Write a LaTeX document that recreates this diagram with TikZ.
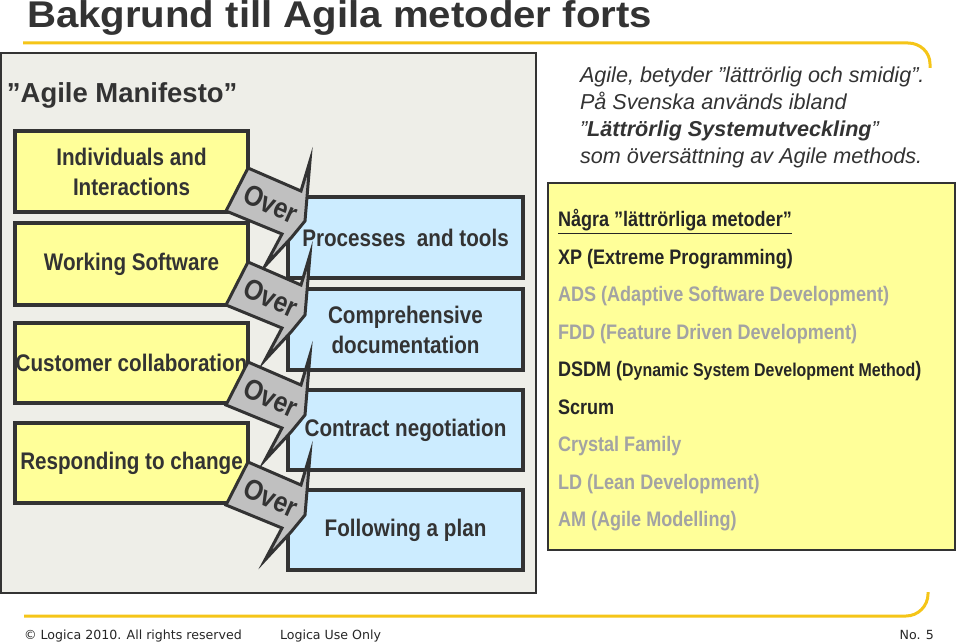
\documentclass[tikz,border=0pt]{standalone}
\usepackage{fontspec}
\setmainfont{Liberation Sans}
\newfontfamily\narrowfont[FakeStretch=0.86]{Liberation Sans}
\newfontfamily\headfont[FakeStretch=1.08]{Liberation Sans}
\newfontfamily\footfont{DejaVu Sans}
\usepackage{tikz}
\usetikzlibrary{positioning}
\definecolor{inkgray}{HTML}{333333}
\definecolor{panelgray}{HTML}{EEEEE8}
\definecolor{boxyellow}{HTML}{FFFF99}
\definecolor{boxblue}{HTML}{CCECFF}
\definecolor{calloutgray}{HTML}{C0C0C0}
\definecolor{rulegold}{HTML}{F5C518}
\definecolor{fadedgray}{HTML}{A3A3A3}
\newcommand{\pxu}{0.75pt}

\begin{document}
\begin{tikzpicture}[x=0.75pt,y=-0.75pt,
   every node/.style={inner sep=0pt,outer sep=0pt,text=inkgray},
   lbox/.style={draw=inkgray,line width=3pt,fill=boxyellow,minimum width=233*\pxu,
              align=center,font=\narrowfont\bfseries\fontsize{18pt}{22.5pt}\selectfont},
   rbox/.style={lbox,fill=boxblue,minimum width=235*\pxu},
   callout/.style={draw=inkgray,line width=2.25pt,fill=calloutgray,line join=miter},
   overtxt/.style={rotate=-24,font=\narrowfont\bfseries\fontsize{21.5pt}{22pt}\selectfont},
   itx/.style={anchor=base west,font=\itshape\fontsize{16.2pt}{19pt}\selectfont},
   meth/.style={anchor=base west,text=black!85,
              font=\narrowfont\bfseries\fontsize{15.75pt}{18pt}\selectfont},
   faded/.style={meth,text=fadedgray},
   foot/.style={anchor=base west,text=black!85,font=\footfont\fontsize{9.45pt}{11pt}\selectfont},
   rule/.style={draw=rulegold,line width=2.25pt}]
  \fill[white] (0,0) rectangle (959,642);
  \useasboundingbox (0,0) rectangle (959,642);

  \node[anchor=base west,font=\headfont\bfseries\fontsize{27.9pt}{30pt}\selectfont]
       (title) at (27,28) {Bakgrund till Agila metoder forts};
  \draw[rule] (23,43) -- (908,43) .. controls (920,43) and (930,52) .. (930,64) -- (930,68);
  \draw[rule] (24,616) -- (906,616) .. controls (918,616) and (928,606) .. (928,594) -- (928,592);

  % manifesto panel
  \node[draw=inkgray,line width=1.1pt,fill=panelgray,minimum width=535*\pxu,
        minimum height=540*\pxu] (panel) at (268.5,323) {};
  \node[anchor=base west,font=\bfseries\fontsize{20.6pt}{24pt}\selectfont]
       (manifesto) at (7,102) {”Agile Manifesto”};

  \node[lbox,minimum height=81*\pxu] (indiv) at (131.5,171.5) {Individuals and\\Interactions};
  \node[lbox,minimum height=82*\pxu] (work) at (131.5,264) {Working Software};
  \node[lbox,minimum height=80*\pxu] (cust) at (131.5,363) {Customer collaboration};
  \node[lbox,minimum height=80*\pxu] (resp) at (131.5,463) {Responding to change};

  \node[rbox,minimum height=81*\pxu] (proc) at (405.5,237.5) {Processes~ and tools};
  \node[rbox,minimum height=81*\pxu] (docu) at (405.5,329.5) {Comprehensive\\documentation};
  \node[rbox,minimum height=80*\pxu] (contr) at (405.5,430) {Contract negotiation};
  \node[rbox,minimum height=80*\pxu] (plan) at (405.5,530) {Following a plan};

  % the four "Over" callouts
  \foreach \oy [count=\k] in {168,262,362,462}{
    \begin{scope}[shift={(248,\oy)}]
      \draw[callout] (0,0) -- (53,23) -- (62,-7) -- (57,53) -- (43,70) -- (17,98)
            -- (34,66) -- (-22,43) -- cycle;
      \node[overtxt] (over\k) at (23,36) {Over};
    \end{scope}
  }

  % meaning of agile
  \node[itx] (mean1) at (580,82) {Agile, betyder ”lättrörlig och smidig”.};
  \node[itx] (mean2) at (580,109) {På Svenska används ibland};
  \node[itx] (mean3) at (580,136) {”\textbf{Lättrörlig Systemutveckling}”};
  \node[itx] (mean4) at (580,163) {som översättning av Agile methods.};

  % method list
  \node[draw=inkgray,line width=1.1pt,fill=boxyellow,minimum width=407*\pxu,
        minimum height=367*\pxu] (methods) at (751.5,366.5) {};
  \node[meth]  (m0) at (558,226.5) {\underline{Några ”lättrörliga metoder”}};
  \node[meth]  (m1) at (558,264) {XP (Extreme Programming)};
  \node[faded] (m2) at (558,301.5) {ADS (Adaptive Software Development)};
  \node[faded] (m3) at (558,339) {FDD (Feature Driven Development)};
  \node[meth]  (m4) at (558,376.5)
       {DSDM ({\fontsize{13.9pt}{16pt}\selectfont Dynamic System Development Method})};
  \node[meth]  (m5) at (558,414) {Scrum};
  \node[faded] (m6) at (558,451.5) {Crystal Family};
  \node[faded] (m7) at (558,489) {LD (Lean Development)};
  \node[faded] (m8) at (558,526.5) {AM (Agile Modelling)};

  \node[foot] (copy) at (24,639) {© Logica 2010. All rights reserved};
  \node[foot] (use) at (280,639) {Logica Use Only};
  \node[foot,anchor=base east] (pageno) at (934,639) {No. 5};
\end{tikzpicture}
\end{document}
